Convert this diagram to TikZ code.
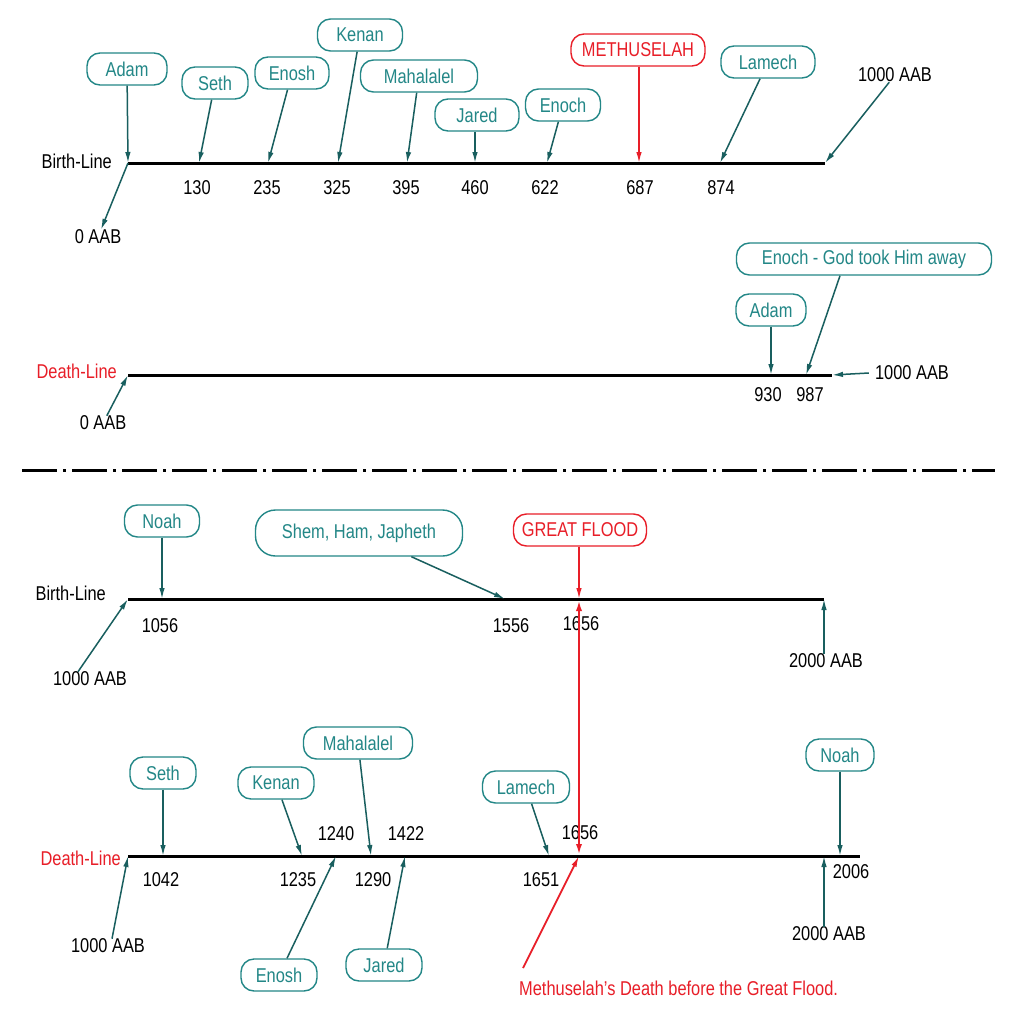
\documentclass[tikz,border=0pt]{standalone}
\usepackage{fontspec}
\setmainfont{Liberation Sans}[FakeStretch=0.82]
\usetikzlibrary{arrows.meta}
\definecolor{tealc}{RGB}{35,135,135}
\definecolor{tealarr}{RGB}{25,95,95}
\definecolor{redc}{RGB}{232,30,40}
\tikzset{
 every node/.style={font=\fontsize{20}{23}\selectfont, inner sep=0pt},
 tline/.style={line width=3pt, black},
 pbox/.style={draw=tealc, text=tealc, line width=1.4pt, rounded corners=13pt, minimum height=32pt, inner xsep=8pt},
 rbox/.style={pbox, draw=redc, text=redc},
 arr/.style={-{Latex[length=11pt,width=5.5pt]}, line width=1.5pt, tealarr},
 rarr/.style={arr, redc},
 rdbl/.style={{Latex[length=12pt,width=6pt]}-{Latex[length=12pt,width=6pt]}, line width=2.6pt, redc},
 num/.style={text=black},
 lbl/.style={text=black},
 rlbl/.style={text=redc},
 sepline/.style={line width=3pt, dash pattern=on 35pt off 6pt on 3pt off 6pt},
}
\begin{document}
\begin{tikzpicture}[x=1pt,y=-1pt]
\useasboundingbox[fill=white] (0,0) rectangle (1011,1014);

% ===== top birth line =====
\coordinate (b1s) at (128,163);
\coordinate (b1e) at (825,163);
\draw[tline] (b1s) -- (b1e);
\node[lbl, anchor=east] (bl1) at (112,161) {Birth-Line};
\coordinate (b130) at (199,163);
\coordinate (b235) at (268,163);
\coordinate (b325) at (338,163);
\coordinate (b395) at (407,163);
\coordinate (b460) at (475,163);
\coordinate (b622) at (547,163);
\coordinate (b687) at (639,163);
\coordinate (b874) at (720,163);
\node[num] (n130) at (197,188) {130};
\node[num] (n235) at (267,188) {235};
\node[num] (n325) at (337,188) {325};
\node[num] (n395) at (406,188) {395};
\node[num] (n460) at (475,188) {460};
\node[num] (n622) at (545,188) {622};
\node[num] (n687) at (640,188) {687};
\node[num] (n874) at (721,188) {874};
\node[lbl] (aab0a) at (98,237) {0 AAB};
\node[lbl] (aab1000a) at (895,75) {1000 AAB};
\draw[arr] (b1s) -- (aab0a);
\draw[arr] (aab1000a) -- (b1e);

\node[pbox, minimum width=80pt] (adam) at (127,69) {Adam};
\node[pbox, minimum width=66pt] (seth) at (215,83) {Seth};
\node[pbox, minimum width=74pt] (enosh) at (292,73) {Enosh};
\node[pbox, minimum width=85pt] (kenan) at (360,35) {Kenan};
\node[pbox, minimum width=117pt] (mahal) at (419,76) {Mahalalel};
\node[pbox, minimum width=84pt] (jared) at (477,115) {Jared};
\node[pbox, minimum width=75pt] (enoch) at (563,105) {Enoch};
\node[rbox, minimum width=134pt] (meth) at (638,50) {METHUSELAH};
\node[pbox, minimum width=94pt] (lamech) at (768,62) {Lamech};
\draw[arr] (adam) -- (b1s);
\draw[arr] (seth) -- (b130);
\draw[arr] (enosh) -- (b235);
\draw[arr] (kenan) -- (b325);
\draw[arr] (mahal) -- (b395);
\draw[arr] (jared.south -| b460) -- (b460);
\draw[arr] (enoch) -- (b622);
\draw[rarr] (meth.south -| b687) -- (b687);
\draw[arr] (lamech) -- (b874);

% ===== top death line =====
\coordinate (d1s) at (128,375);
\coordinate (d1e) at (832,375);
\draw[tline] (d1s) -- (d1e);
\node[rlbl, anchor=east] (dl1) at (117,371) {Death-Line};
\coordinate (d930) at (771,375);
\coordinate (d987) at (806,375);
\node[num] (n930) at (768,395) {930};
\node[num] (n987) at (810,395) {987};
\node[lbl] (aab0b) at (103,423) {0 AAB};
\node[lbl] (aab1000b) at (912,373) {1000 AAB};
\draw[arr] (aab0b) -- (d1s);
\draw[arr] ([xshift=-6pt]aab1000b.west) -- (d1e);
\node[pbox, minimum width=70pt] (adam2) at (771,310) {Adam};
\node[pbox, minimum width=255pt] (enochgod) at (864,259) {Enoch - God took Him away};
\draw[arr] (adam2) -- (d930);
\draw[arr] ([xshift=-24pt]enochgod.south) -- (d987);

% ===== separator =====
\coordinate (sepa) at (22,470);
\coordinate (sepb) at (995,470);
\draw[sepline] (sepa) -- (sepb);

% ===== bottom birth line =====
\coordinate (b2s) at (128,599);
\coordinate (b2e) at (824,599);
\draw[tline] (b2s) -- (b2e);
\node[lbl, anchor=east] (bl2) at (106,593) {Birth-Line};
\coordinate (b1056) at (162,599);
\coordinate (b1556) at (505,599);
\coordinate (b1656) at (579,599);
\node[num] (n1056) at (160,626) {1056};
\node[num] (n1556) at (511,626) {1556};
\node[num] (n1656a) at (581,624) {1656};
\node[lbl] (aab1000c) at (90,679) {1000 AAB};
\node[lbl] (aab2000c) at (826,661) {2000 AAB};
\draw[arr] ([xshift=-12pt]aab1000c.north) -- (b2s);
\draw[arr] (aab2000c.north -| b2e) -- (b2e);
\node[pbox, minimum width=75pt] (noah) at (162,521) {Noah};
\node[pbox, minimum width=207pt, minimum height=46pt, rounded corners=20pt] (shem) at (359,533) {Shem, Ham, Japheth};
\node[rbox, minimum width=133pt] (flood) at (580,530) {GREAT FLOOD};
\draw[arr] (noah) -- (b1056);
\draw[arr] (shem) -- (b1556);
\draw[rarr] (flood.south -| b1656) -- (b1656);

% ===== bottom death line =====
\coordinate (d2s) at (128,856);
\coordinate (d2e) at (860,856);
\draw[tline] (d2s) -- (d2e);
\node[rlbl, anchor=east] (dl2) at (121,858) {Death-Line};
\coordinate (d1042) at (163,856);
\coordinate (d1235) at (302,856);
\coordinate (d1240) at (336,856);
\coordinate (d1290) at (371,856);
\coordinate (d1422) at (405,856);
\coordinate (d1651) at (549,856);
\coordinate (d1656) at (579,856);
\coordinate (d2000) at (824,856);
\coordinate (d2006) at (840,856);
\node[num] (n1042) at (161,880) {1042};
\node[num] (n1235) at (298,880) {1235};
\node[num] (n1240) at (336,834) {1240};
\node[num] (n1290) at (373,880) {1290};
\node[num] (n1422) at (406,834) {1422};
\node[num] (n1651) at (541,880) {1651};
\node[num] (n1656b) at (580,833) {1656};
\node[num] (n2006) at (851,872) {2006};
\node[lbl] (aab1000d) at (108,946) {1000 AAB};
\node[lbl] (aab2000d) at (829,934) {2000 AAB};
\draw[arr] ([xshift=4pt]aab1000d.north) -- (d2s);
\draw[arr] (aab2000d.north -| d2000) -- (d2000);

\node[pbox, minimum width=66pt] (seth2) at (163,773) {Seth};
\node[pbox, minimum width=76pt] (kenan2) at (276,783) {Kenan};
\node[pbox, minimum width=76pt] (enosh2) at (279,975) {Enosh};
\node[pbox, minimum width=109pt] (mahal2) at (358,743) {Mahalalel};
\node[pbox, minimum width=76pt] (jared2) at (384,965) {Jared};
\node[pbox, minimum width=87pt] (lamech2) at (526,787) {Lamech};
\node[pbox, minimum width=68pt] (noah2) at (840,755) {Noah};
\draw[arr] (seth2) -- (d1042);
\draw[arr] (kenan2) -- (d1235);
\draw[arr] (enosh2) -- (d1240);
\draw[arr] (mahal2) -- (d1290);
\draw[arr] (jared2) -- (d1422);
\draw[arr] (lamech2) -- (d1651);
\draw[arr] (noah2) -- (d2006);

% red flood link and Methuselah's death
\draw[rdbl] (d1656) -- (b1656);
\node[rlbl, anchor=west] (mtext) at (519,988) {Methuselah's Death before the Great Flood.};
\coordinate (mstart) at (523,968);
\draw[rarr, line width=1.8pt] (mstart) -- (d1656);
\end{tikzpicture}
\end{document}
